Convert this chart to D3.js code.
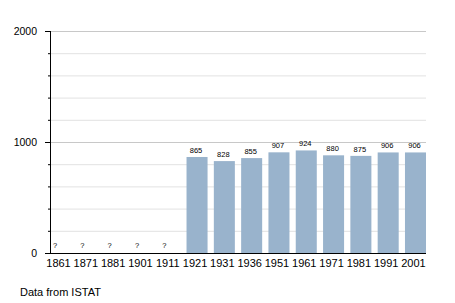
<!DOCTYPE html>
<html>
<head>
<meta charset="utf-8">
<script src="https://cdn.jsdelivr.net/npm/d3@7"></script>
<style>
  body { margin: 0; background: #fff; }
  text { font-family: "Liberation Sans", Arial, sans-serif; }
</style>
</head>
<body>
<div id="canvas"></div>
<script>
// census years and population (ISTAT); null = no data ("?")
const years = ["1861", "1871", "1881", "1901", "1911", "1921", "1931", "1936", "1951", "1961", "1971", "1981", "1991", "2001"];
const population = [null, null, null, null, null, 865, 828, 855, 907, 924, 880, 875, 906, 906];
const majorTicks = [0, 1000, 2000];
const minorTicks = [200, 400, 600, 800, 1200, 1400, 1600, 1800];

const width = 455, height = 303;
const margin = {left: 50, right: 29, top: 31, bottom: 50};

let svg = d3.select("#canvas").append("svg").attr("width", width).attr("height", height);
svg.append("rect").attr("width", "100%").attr("height", "100%").attr("fill", "#ffffff");

var x = d3.scaleBand()
    .domain(years)
    .range([margin.left, width - margin.right])
    .paddingInner(0.23)
    .paddingOuter(0);
var y = d3.scaleLinear()
    .domain([0, 2000])
    .range([height - margin.bottom, margin.top]);

// grid
svg.append("g").selectAll("line.minor")
    .data(minorTicks)
    .enter().append("line")
    .attr("x1", margin.left).attr("x2", width - margin.right)
    .attr("y1", d => y(d) + 0.5).attr("y2", d => y(d) + 0.5)
    .attr("stroke", "#e2e2e2");
svg.append("g").selectAll("line.major")
    .data(majorTicks.filter(d => d > 0))
    .enter().append("line")
    .attr("x1", margin.left).attr("x2", width - margin.right)
    .attr("y1", d => y(d) + 0.5).attr("y2", d => y(d) + 0.5)
    .attr("stroke", "#c8c8c8");

// bars
const chartData = years.map((yr, i) => ({year: yr, value: population[i]}));
svg.append("g").selectAll("rect")
    .data(chartData.filter(d => d.value !== null))
    .enter().append("rect")
    .attr("x", d => x(d.year))
    .attr("width", x.bandwidth())
    .attr("y", d => y(d.value))
    .attr("height", d => y(0) - y(d.value))
    .attr("fill", "#99b3cc");

// value labels
svg.append("g").selectAll("text")
    .data(chartData)
    .enter().append("text")
    .attr("x", d => d.value === null ? x(d.year) + 3 : x(d.year) + x.bandwidth() / 2 - 1)
    .attr("y", d => d.value === null ? y(0) - 5 : y(d.value) - 4)
    .attr("text-anchor", d => d.value === null ? "start" : "middle")
    .attr("font-size", "7.5px")
    .attr("fill", "#000")
    .text(d => d.value === null ? "?" : d.value);

// y axis
svg.append("line")
    .attr("x1", margin.left + 0.5).attr("x2", margin.left + 0.5)
    .attr("y1", y(2000)).attr("y2", y(0) + 1)
    .attr("stroke", "#000");
svg.append("g").selectAll("line")
    .data(minorTicks)
    .enter().append("line")
    .attr("x1", margin.left - 2).attr("x2", margin.left)
    .attr("y1", d => y(d) + 0.5).attr("y2", d => y(d) + 0.5)
    .attr("stroke", "#000");
svg.append("g").selectAll("line")
    .data(majorTicks)
    .enter().append("line")
    .attr("x1", margin.left - 5).attr("x2", margin.left)
    .attr("y1", d => y(d) + 0.5).attr("y2", d => y(d) + 0.5)
    .attr("stroke", "#000");
svg.append("g").selectAll("text")
    .data(majorTicks)
    .enter().append("text")
    .attr("x", margin.left - 13)
    .attr("y", d => y(d) + 4)
    .attr("text-anchor", "end")
    .attr("font-size", "10.5px")
    .text(d => d);

// x axis
svg.append("line")
    .attr("x1", margin.left).attr("x2", width - margin.right)
    .attr("y1", y(0) + 0.5).attr("y2", y(0) + 0.5)
    .attr("stroke", "#000");
svg.append("g").selectAll("text")
    .data(years)
    .enter().append("text")
    .attr("x", d => x(d) + x.bandwidth() / 2 - 2)
    .attr("y", y(0) + 14)
    .attr("text-anchor", "middle")
    .attr("font-size", "11px")
    .text(d => d);

svg.append("text")
    .attr("x", 20)
    .attr("y", 296)
    .attr("font-size", "11px")
    .text("Data from ISTAT");
</script>
</body>
</html>
